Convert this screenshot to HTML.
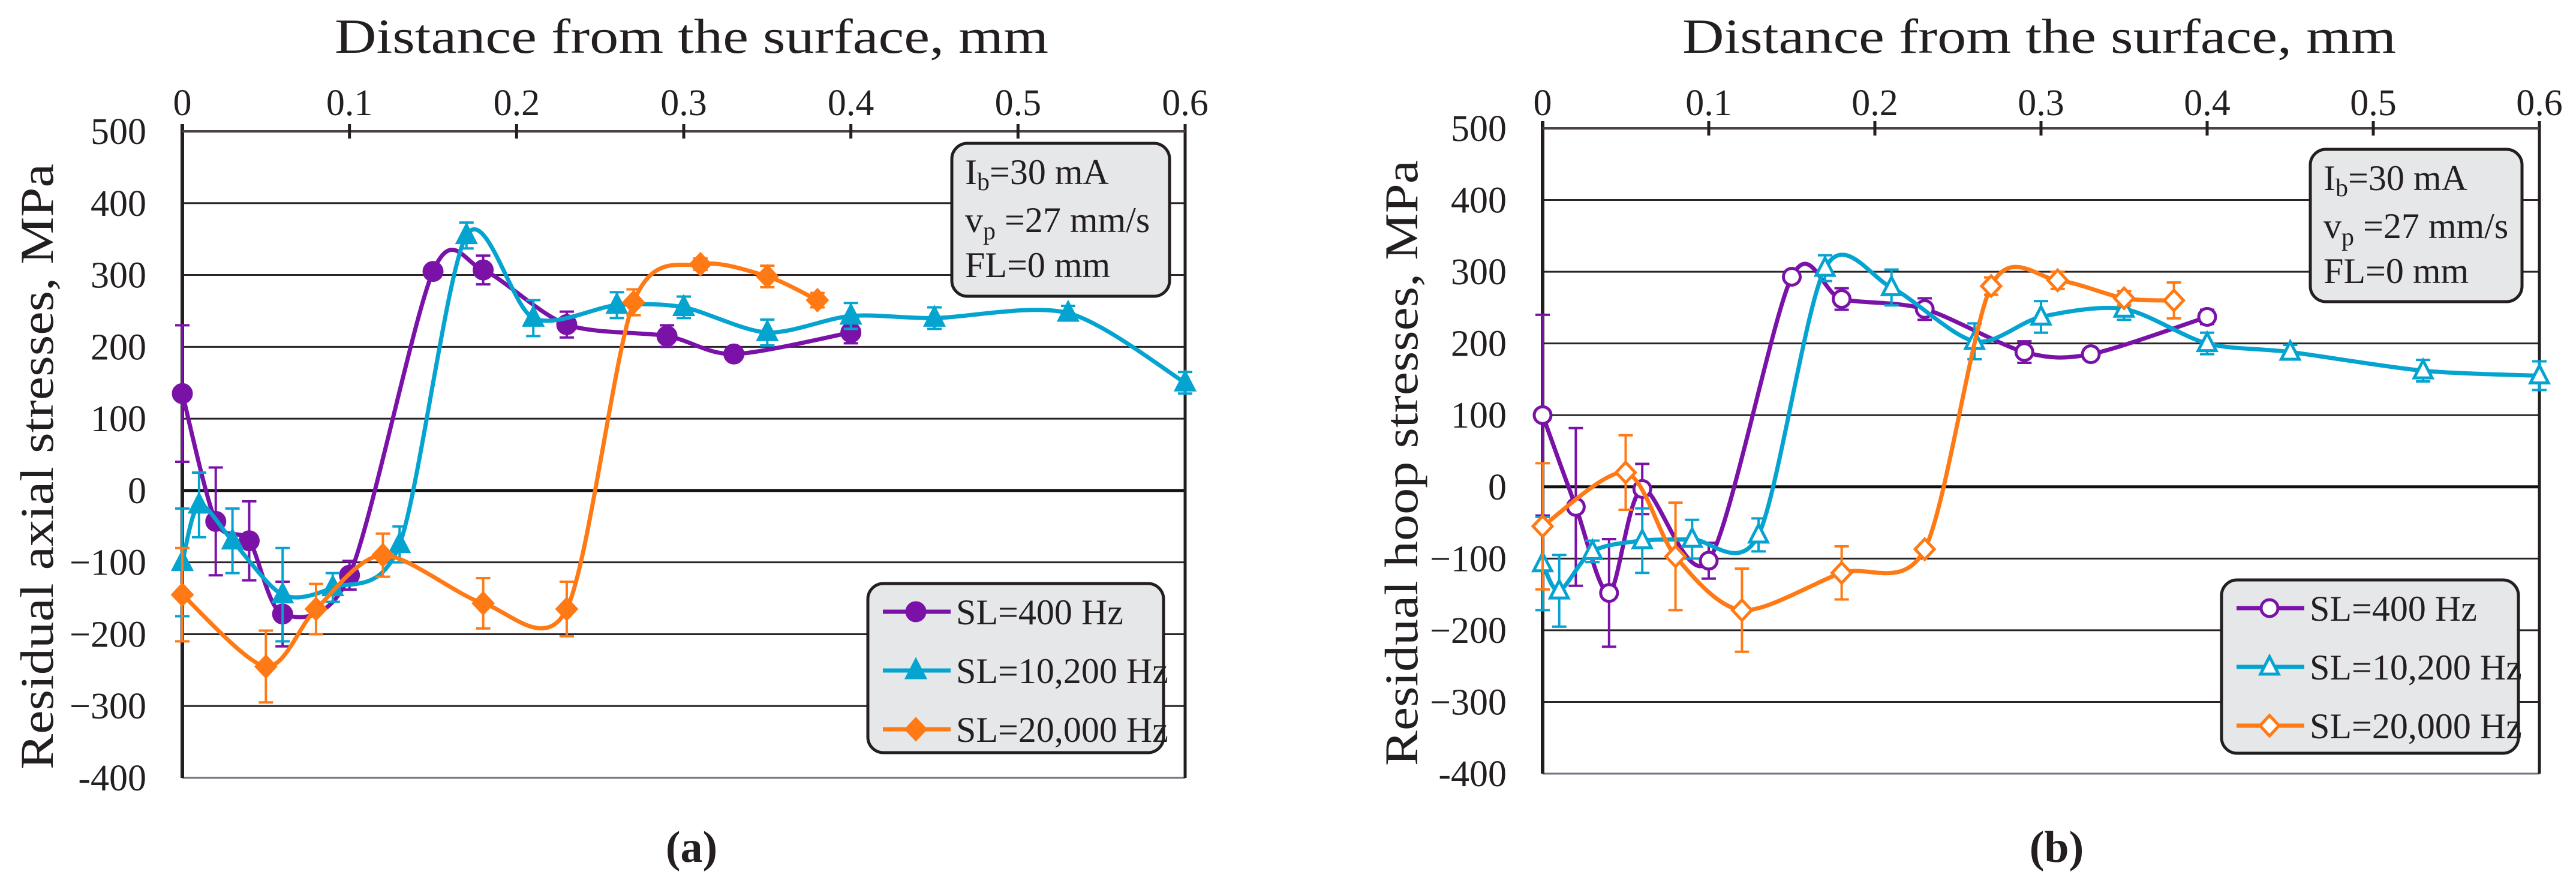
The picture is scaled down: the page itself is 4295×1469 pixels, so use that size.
<!DOCTYPE html>
<html><head><meta charset="utf-8"><style>
html,body{margin:0;padding:0;background:#fff;}
svg{display:block;font-family:"Liberation Serif",serif;}
svg text{font-family:"Liberation Serif",serif;}
</style></head><body>
<svg id="fig" width="4295" height="1469" viewBox="0 0 4295 1469" xmlns="http://www.w3.org/2000/svg"></svg>
<script>
// ---- data (x in mm, y in MPa, e = error half-width) ----
const xTicks = [0, 0.1, 0.2, 0.3, 0.4, 0.5, 0.6];
const xTickLabels = ["0", "0.1", "0.2", "0.3", "0.4", "0.5", "0.6"];
const yTicks = [500, 400, 300, 200, 100, 0, -100, -200, -300, -400];
const yTickLabels = ["500", "400", "300", "200", "100", "0", "\u2212100", "\u2212200", "\u2212300", "-400"];
const seriesNames = ["SL=400 Hz", "SL=10,200 Hz", "SL=20,000 Hz"];

const aPurpleX = [0, 0.02, 0.04, 0.06, 0.10, 0.15, 0.18, 0.23, 0.29, 0.33, 0.40];
const aPurpleY = [135, -43, -70, -172, -118, 305, 307, 231, 215, 190, 220];
const aPurpleE = [95, 75, 55, 45, 20, 8, 20, 18, 15, 5, 15];
const aBlueX = [0, 0.01, 0.03, 0.06, 0.09, 0.13, 0.17, 0.21, 0.26, 0.30, 0.35, 0.40, 0.45, 0.53, 0.60];
const aBlueY = [-100, -20, -70, -145, -135, -75, 355, 240, 258, 255, 220, 243, 240, 247, 150];
const aBlueE = [75, 45, 45, 65, 20, 25, 18, 25, 18, 15, 18, 18, 15, 10, 15];
const aOrangeX = [0, 0.05, 0.08, 0.12, 0.18, 0.23, 0.27, 0.31, 0.35, 0.38];
const aOrangeY = [-145, -245, -165, -90, -157, -165, 262, 315, 298, 265];
const aOrangeE = [65, 50, 35, 30, 35, 38, 18, 8, 15, 10];

const bPurpleX = [0, 0.02, 0.04, 0.06, 0.10, 0.15, 0.18, 0.23, 0.29, 0.33, 0.40];
const bPurpleY = [100, -28, -148, -3, -103, 293, 262, 248, 188, 185, 237];
const bPurpleE = [140, 110, 75, 35, 25, 5, 15, 15, 15, 4, 10];
const bBlueX = [0, 0.01, 0.03, 0.06, 0.09, 0.13, 0.17, 0.21, 0.26, 0.30, 0.35, 0.40, 0.45, 0.53, 0.60];
const bBlueY = [-107, -145, -90, -75, -73, -67, 305, 278, 203, 237, 248, 200, 188, 162, 155];
const bBlueE = [65, 50, 15, 45, 27, 23, 18, 25, 25, 22, 15, 15, 10, 15, 20];
const bOrangeX = [0, 0.05, 0.08, 0.12, 0.18, 0.23, 0.27, 0.31, 0.35, 0.38];
const bOrangeY = [-55, 20, -97, -172, -120, -87, 280, 288, 263, 260];
const bOrangeE = [88, 52, 75, 58, 37, 3, 12, 12, 10, 25];

const NS = "http://www.w3.org/2000/svg";
const svg = document.getElementById("fig");
const COLORS = ["#7a12a8", "#05a4d0", "#ff7a14"];
const FONT = "Liberation Serif, serif";

function mk(tag, attrs, parent, text) {
  const el = document.createElementNS(NS, tag);
  for (const k in attrs) el.setAttribute(k, attrs[k]);
  if (tag === "text") el.setAttribute("font-family", FONT);
  if (text !== undefined) el.textContent = text;
  (parent || svg).appendChild(el);
  return el;
}

function smoothPath(pts) {
  const k = 7;
  let d = "M" + pts[0][0] + "," + pts[0][1];
  for (let i = 0; i < pts.length - 1; i++) {
    const p0 = pts[i - 1] || pts[i], p1 = pts[i], p2 = pts[i + 1], p3 = pts[i + 2] || p2;
    const c1 = [p1[0] + (p2[0] - p0[0]) / k, p1[1] + (p2[1] - p0[1]) / k];
    const c2 = [p2[0] - (p3[0] - p1[0]) / k, p2[1] - (p3[1] - p1[1]) / k];
    d += " C" + c1[0] + "," + c1[1] + " " + c2[0] + "," + c2[1] + " " + p2[0] + "," + p2[1];
  }
  return d;
}

function marker(g, kind, filled, cx, cy, color) {
  const fill = filled ? color : "#fff";
  let m;
  if (kind === 0) m = mk("circle", {cx: cx, cy: cy, r: filled ? 15 : 14, fill: fill, stroke: color, "stroke-width": 5}, g);
  else if (kind === 1) m = mk("polygon", {points: (cx) + "," + (cy - 17) + " " + (cx + 15) + "," + (cy + 12) + " " + (cx - 15) + "," + (cy + 12), fill: fill, stroke: color, "stroke-width": 5}, g);
  else m = mk("polygon", {points: cx + "," + (cy - 17) + " " + (cx + 16) + "," + cy + " " + cx + "," + (cy + 17) + " " + (cx - 16) + "," + cy, fill: fill, stroke: color, "stroke-width": 5}, g);
  return m;
}

function panel(cfg) {
  const {x0, x1, y0, y1, filled, series, yTitle, label, labelX, info, legend, name, titleX, yTitleX} = cfg;
  const sx = v => x0 + (v - 0) / 0.6 * (x1 - x0);
  const sy = v => y0 + (500 - v) / 900 * (y1 - y0);
  const g = mk("g", {}, svg);
  
  

  const t = mk("text", {x: titleX, y: 88, "font-size": 82, textLength: 1190, lengthAdjust: "spacingAndGlyphs", fill: "#231f20"}, g, "Distance from the surface, mm");
  
  

  yTicks.forEach((v, i) => {
    const gl = mk("line", {x1: x0, x2: x1, y1: sy(v), y2: sy(v), stroke: v === 0 ? "#111" : (v === -400 ? "#7a7080" : "#2a2428"), "stroke-width": v === 0 ? 5 : 3}, g);
    
    
    const tl = mk("text", {x: x0 - 60, y: sy(v) + 21, "font-size": 62, "text-anchor": "end", fill: "#231f20"}, g, yTickLabels[i]);
    
    
  });
  const ax = mk("line", {x1: x0, x2: x0, y1: y0 - 12, y2: y1, stroke: "#231f20", "stroke-width": 6}, g);
  
  
  const ax2 = mk("line", {x1: x1, x2: x1, y1: y0 - 12, y2: y1, stroke: "#231f20", "stroke-width": 5}, g);
  
  
  const ax3 = mk("line", {x1: x0, x2: x1, y1: y0, y2: y0, stroke: "#4a4048", "stroke-width": 4}, g);
  
  
  xTicks.forEach((v, i) => {
    if (i > 0 && i < 6) {
      const tk = mk("line", {x1: sx(v), x2: sx(v), y1: y0 - 12, y2: y0 + 12, stroke: "#231f20", "stroke-width": 5}, g);
      
      
    }
    const tl = mk("text", {x: sx(v), y: 192, "font-size": 62, "text-anchor": "middle", fill: "#231f20"}, g, xTickLabels[i]);
    
    
  });
  const yt = mk("text", {x: 0, y: 0, "font-size": 78, textLength: 1010, lengthAdjust: "spacingAndGlyphs", "text-anchor": "middle", fill: "#231f20", transform: "translate(" + yTitleX + "," + ((y0 + y1) / 2 + 20) + ") rotate(-90)"}, g, yTitle);
  
  

  const ib = mk("g", {}, g);
  
  
  mk("rect", {x: info[0], y: info[1], width: info[2], height: info[3], rx: 26, fill: "#e6e7e9", stroke: "#231f20", "stroke-width": 5}, ib);
  const it1 = mk("text", {x: info[0] + 22, y: info[1] + 68, "font-size": 60, fill: "#231f20"}, ib);
  it1.innerHTML = 'I<tspan font-size="42" dy="10">b</tspan><tspan dy="-10">=30 mA</tspan>';
  const it2 = mk("text", {x: info[0] + 22, y: info[1] + 148, "font-size": 60, fill: "#231f20"}, ib);
  it2.innerHTML = 'v<tspan font-size="42" dy="12">p</tspan><tspan dy="-12"> =27 mm/s</tspan>';
  mk("text", {x: info[0] + 22, y: info[1] + 223, "font-size": 60, fill: "#231f20"}, ib, "FL=0 mm");

  series.forEach((s, si) => {
    const col = COLORS[si];
    const sg = mk("g", {}, g);
    
    
    const pts = s.x.map((v, i) => [sx(v), sy(s.y[i])]);
    const ln = mk("path", {d: smoothPath(pts), fill: "none", stroke: col, "stroke-width": 7, "stroke-linejoin": "round"}, sg);
    
    
    s.x.forEach((v, i) => {
      const cx = sx(v), ya = sy(s.y[i] + s.e[i]), yb = sy(s.y[i] - s.e[i]);
      const eb = mk("path", {d: "M" + cx + "," + ya + "V" + yb + "M" + (cx - 12) + "," + ya + "H" + (cx + 12) + "M" + (cx - 12) + "," + yb + "H" + (cx + 12), stroke: col, "stroke-width": 4, fill: "none"}, sg);
      
      
    });
    s.x.forEach((v, i) => {
      const m = marker(sg, si, filled, sx(v), sy(s.y[i]), col);
      
      
    });
  });

  const lg = mk("g", {}, g);
  
  
  mk("rect", {x: legend[0], y: legend[1], width: legend[2], height: legend[3], rx: 26, fill: "#e6e7e9", stroke: "#231f20", "stroke-width": 5}, lg);
  seriesNames.forEach((n, i) => {
    const ey = legend[1] + 47 + i * 98;
    const le = mk("g", {}, lg);
    
    
    mk("line", {x1: legend[0] + 25, x2: legend[0] + 138, y1: ey, y2: ey, stroke: COLORS[i], "stroke-width": 7}, le);
    marker(le, i, filled, legend[0] + 80, ey, COLORS[i]);
    mk("text", {x: legend[0] + 147, y: ey + 21, "font-size": 60, fill: "#231f20"}, le, n);
  });

  const pl = mk("text", {x: labelX, y: 1437, "font-size": 74, "font-weight": "bold", "text-anchor": "middle", fill: "#231f20"}, g, label);
  
  
}

panel({name: "panel-a-axial", x0: 304, x1: 1976, y0: 219, y1: 1297, filled: true, titleX: 558, yTitleX: 88,
  yTitle: "Residual axial stresses, MPa", label: "(a)", labelX: 1153,
  info: [1587, 239, 363, 255], legend: [1447, 973, 493, 282],
  series: [{x: aPurpleX, y: aPurpleY, e: aPurpleE}, {x: aBlueX, y: aBlueY, e: aBlueE}, {x: aOrangeX, y: aOrangeY, e: aOrangeE}]});
panel({name: "panel-b-hoop", x0: 2572, x1: 4234, y0: 214, y1: 1290, filled: false, titleX: 2805, yTitleX: 2363,
  yTitle: "Residual hoop stresses, MPa", label: "(b)", labelX: 3429,
  info: [3852, 249, 353, 254], legend: [3704, 967, 495, 289],
  series: [{x: bPurpleX, y: bPurpleY, e: bPurpleE}, {x: bBlueX, y: bBlueY, e: bBlueE}, {x: bOrangeX, y: bOrangeY, e: bOrangeE}]});
</script>
</body></html>
